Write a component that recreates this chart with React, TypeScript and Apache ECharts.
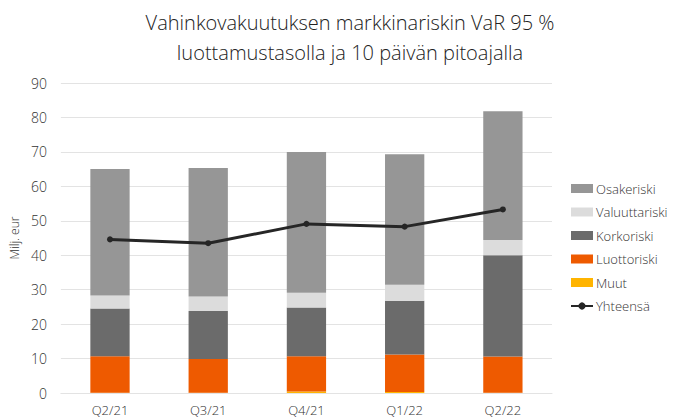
import React, { useEffect, useRef } from "react";
import * as echarts from "echarts";

const categories = ["Q2/21", "Q3/21", "Q4/21", "Q1/22", "Q2/22"];
const muut = [0.1, 0.1, 0.4, 0.3, 0.1];
const luottoriski = [10.6, 9.8, 10.3, 10.9, 10.5];
const korkoriski = [13.8, 13.9, 14.1, 15.6, 29.4];
const valuuttariski = [3.8, 4.2, 4.3, 4.6, 4.4];
const osakeriski = [36.7, 37.3, 40.9, 37.9, 37.4];
const yhteensa = [44.6, 43.5, 49.1, 48.3, 53.3];

const FONT = "'Open Sans', sans-serif";

export default function App() {
  const ref = useRef<HTMLDivElement>(null);
  useEffect(() => {
    if (!ref.current) return;
    const chart = echarts.init(ref.current, null, { renderer: "svg" });
    const bar = (name: string, data: number[], color: string) => ({
      name,
      type: "bar",
      stack: "total",
      data,
      barWidth: "40%",
      itemStyle: { color },
      emphasis: { disabled: true },
    });
    chart.setOption({
      animation: false,
      textStyle: { fontFamily: FONT },
      title: {
        text: "Vahinkovakuutuksen markkinariskin VaR 95 %\nluottamustasolla ja 10 päivän pitoajalla",
        left: 345,
        textAlign: "center",
        top: 2,
        textStyle: {
          fontFamily: FONT,
          fontSize: 20,
          fontWeight: 300,
          color: "#222",
          lineHeight: 30,
        },
      },
      legend: {
        orient: "vertical",
        left: 565,
        top: 177,
        itemWidth: 22,
        itemHeight: 9,
        itemGap: 10.5,
        textStyle: { fontFamily: FONT, fontSize: 13, color: "#333", fontWeight: 300, padding: [0, 0, 0, -2] },
        data: [
          { name: "Osakeriski", icon: "rect" },
          { name: "Valuuttariski", icon: "rect" },
          { name: "Korkoriski", icon: "rect" },
          { name: "Luottoriski", icon: "rect" },
          { name: "Muut", icon: "rect" },
          { name: "Yhteensä" },
        ],
      },
      grid: { left: 58, right: 129, top: 83, bottom: 24, containLabel: false },
      xAxis: {
        type: "category",
        data: categories,
        axisLine: { show: true, lineStyle: { color: "#e3e3e3" } },
        axisTick: { show: false },
        axisLabel: { color: "#333", fontSize: 13, margin: 10, fontFamily: FONT, fontWeight: 300 },
      },
      yAxis: {
        type: "value",
        min: 0,
        max: 90,
        interval: 10,
        name: "Milj. eur",
        nameLocation: "middle",
        nameGap: 38,
        nameTextStyle: { fontSize: 12, color: "#333", fontFamily: FONT, fontWeight: 300 },
        axisLine: { show: false },
        axisTick: { show: false },
        splitLine: { lineStyle: { color: "#e3e3e3" } },
        axisLabel: { color: "#333", fontSize: 14, margin: 14, fontFamily: FONT, fontWeight: 300 },
      },
      series: [
        bar("Muut", muut, "#ffb400"),
        bar("Luottoriski", luottoriski, "#ee5a00"),
        bar("Korkoriski", korkoriski, "#6b6b6b"),
        bar("Valuuttariski", valuuttariski, "#dcdcdc"),
        bar("Osakeriski", osakeriski, "#969696"),
        {
          name: "Yhteensä",
          type: "line",
          data: yhteensa,
          symbol: "circle",
          symbolSize: 6,
          itemStyle: { color: "#262626" },
          lineStyle: { color: "#262626", width: 3 },
          emphasis: { disabled: true },
        },
      ],
    });
    return () => chart.dispose();
  }, []);
  return <div ref={ref} style={{ width: 681, height: 417, position: "absolute", left: 0, top: 0 }} />;
}
